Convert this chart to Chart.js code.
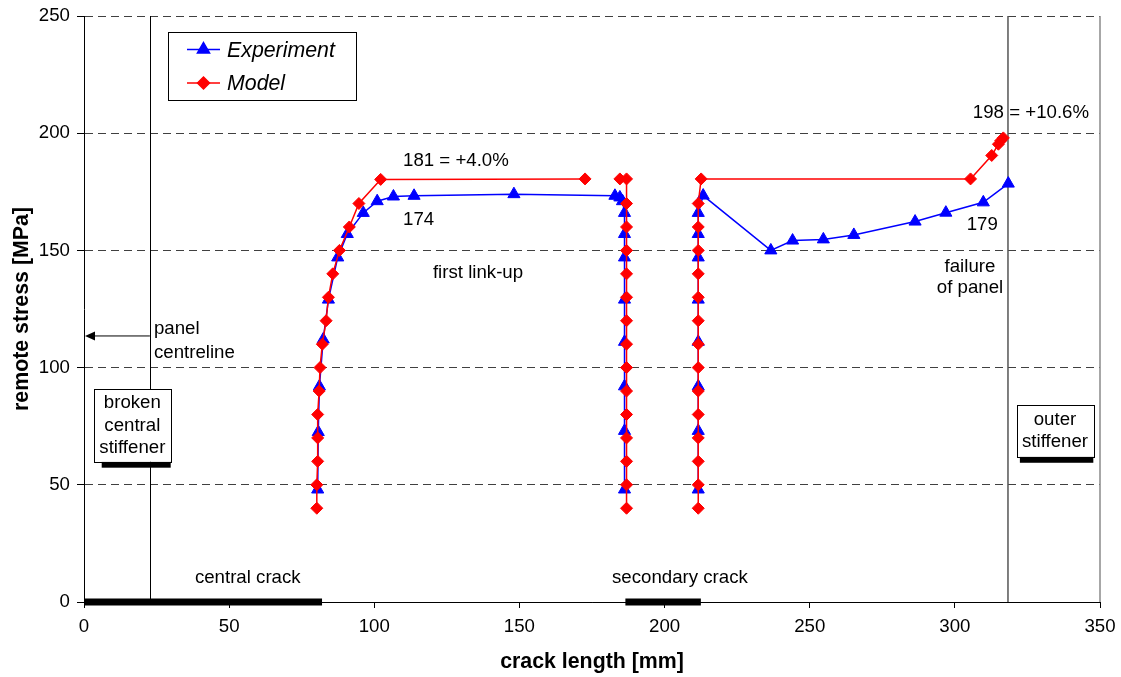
<!DOCTYPE html>
<html>
<head>
<meta charset="utf-8">
<script src="https://cdn.jsdelivr.net/npm/chart.js@4.4.1/dist/chart.umd.min.js"></script>
<style>
  html, body { margin: 0; padding: 0; background: #fff; }
  #wrap { width: 1121px; height: 677px; position: relative; }
</style>
</head>
<body>
<div id="wrap"><canvas id="chart"></canvas></div>
<script>
// crack tip position [mm] vs remote stress [MPa]

// Experiment: central crack tip, link-up plateau, then down the secondary crack tip
const expTip1X = [80.5, 80.7, 81.1, 82.4, 84.2, 87.4, 90.7, 96.2, 101.0, 106.6, 113.7, 148.1, 182.9, 184.6, 185.5];
const expTip1Y = [48, 72.5, 92, 112, 129, 147, 157, 166, 171, 173, 173.3, 174, 173.3, 172.6, 171];
const expTip2X = [186.2, 186.2, 186.2, 186.2, 186.2, 186.2, 186.2, 186.2];
const expTip2Y = [166, 157, 147, 129, 111, 92, 73, 48];
// Experiment: outer tip of secondary crack, growing to failure
const expTip3X = [211.6, 211.6, 211.6, 211.6, 211.6, 211.6, 211.6, 211.6, 213.3, 236.6, 244.1, 254.7, 265.2, 286.3, 296.9, 309.8, 318.4];
const expTip3Y = [48, 73, 92, 111, 129, 147, 157, 166, 173.4, 150, 154.2, 154.7, 156.6, 162.3, 166.1, 170.5, 178.5];

// Model
const modTip1X = [80.2, 80.2, 80.5, 80.5, 80.5, 81.0, 81.3, 82.1, 83.4, 84.2, 85.7, 88.0, 91.4, 94.7, 102.2, 172.6];
const modTip1Y = [40, 50, 60, 70, 80, 90, 100, 110, 120, 130, 140, 150, 160, 170, 180.3, 180.5];
const modTip2X = [184.6, 186.9, 186.9, 186.9, 186.9, 186.9, 186.9, 186.9, 186.9, 186.9, 186.9, 186.9, 186.9, 186.9, 186.9, 186.9];
const modTip2Y = [180.5, 180.5, 170, 160, 150, 140, 130, 120, 110, 100, 90, 80, 70, 60, 50, 40];
const modTip3X = [211.6, 211.6, 211.6, 211.6, 211.6, 211.6, 211.6, 211.6, 211.6, 211.6, 211.6, 211.6, 211.6, 211.6, 212.6, 305.4, 312.7, 315.0, 315.8, 316.7];
const modTip3Y = [40, 50, 60, 70, 80, 90, 100, 110, 120, 130, 140, 150, 160, 170, 180.5, 180.5, 190.5, 195.3, 196.8, 198];

const xTicks = [0, 50, 100, 150, 200, 250, 300, 350];
const yTicks = [0, 50, 100, 150, 200, 250];

// geometry of the specimen [mm]
const panelCentreline = 22.7;
const outerStiffener = 318.3;
const centralCrack = [0, 82];
const secondaryCrack = [186.5, 212.5];

const FONT = '"Liberation Sans", Arial, Helvetica, sans-serif';
Chart.defaults.font.family = FONT;
Chart.defaults.color = '#000';

// join segments with a gap so the line breaks between them
function segments(...pairs) {
  const out = [];
  pairs.forEach(([xs, ys], i) => {
    if (i > 0) out.push({ x: xs[0], y: null });
    xs.forEach((x, j) => out.push({ x: x, y: ys[j] }));
  });
  return out;
}

const annotations = {
  id: 'annotations',
  beforeDatasetsDraw(chart) {
    const { ctx, chartArea: a, scales: { x, y } } = chart;
    ctx.save();
    // panel centreline
    ctx.strokeStyle = '#000';
    ctx.lineWidth = 1;
    ctx.beginPath();
    ctx.moveTo(Math.round(x.getPixelForValue(panelCentreline)) + 0.5, a.top);
    ctx.lineTo(Math.round(x.getPixelForValue(panelCentreline)) + 0.5, a.bottom);
    ctx.stroke();
    // outer stiffener line
    ctx.strokeStyle = '#555';
    ctx.lineWidth = 1.5;
    ctx.beginPath();
    ctx.moveTo(x.getPixelForValue(outerStiffener), a.top);
    ctx.lineTo(x.getPixelForValue(outerStiffener), a.bottom);
    ctx.stroke();
    // right border of plot area
    ctx.strokeStyle = '#8a8a8a';
    ctx.lineWidth = 1.5;
    ctx.beginPath();
    ctx.moveTo(a.right, a.top);
    ctx.lineTo(a.right, a.bottom);
    ctx.stroke();
    // crack bars on the axis
    ctx.fillStyle = '#000';
    const y0 = y.getPixelForValue(0);
    [centralCrack, secondaryCrack].forEach(([c0, c1]) => {
      const p0 = x.getPixelForValue(c0), p1 = x.getPixelForValue(c1);
      ctx.fillRect(p0, y0 - 3.5, p1 - p0, 7);
    });
    // arrow to the panel centreline
    const ay = y.getPixelForValue(113.5);
    const ax0 = x.getPixelForValue(panelCentreline), ax1 = x.getPixelForValue(0);
    ctx.strokeStyle = '#000';
    ctx.lineWidth = 1;
    ctx.beginPath();
    ctx.moveTo(ax0, ay);
    ctx.lineTo(ax1 + 8, ay);
    ctx.stroke();
    ctx.beginPath();
    ctx.moveTo(ax1 + 1, ay);
    ctx.lineTo(ax1 + 11, ay - 4.5);
    ctx.lineTo(ax1 + 11, ay + 4.5);
    ctx.closePath();
    ctx.fill();
    ctx.restore();
  },
  afterDatasetsDraw(chart) {
    const { ctx, chartArea: a, scales: { x, y } } = chart;
    ctx.save();
    ctx.fillStyle = '#000';
    ctx.font = '18.67px ' + FONT;
    ctx.textBaseline = 'middle';

    const text = (s, vx, vy, align) => {
      ctx.textAlign = align || 'left';
      ctx.fillText(s, x.getPixelForValue(vx), y.getPixelForValue(vy));
    };
    text('181 = +4.0%', 109.9, 188.3);
    text('174', 109.9, 163.0);
    text('first link-up', 120.2, 140.4);
    text('198 = +10.6%', 306.2, 208.7);
    text('179', 314.8, 160.8, 'right');
    text('failure', 305.2, 142.9, 'center');
    text('of panel', 305.2, 134.0, 'center');
    text('central crack', 38.2, 10.2);
    text('secondary crack', 181.9, 10.2);
    text('panel', 24.1, 116.5);
    text('centreline', 24.1, 106.2);

    // text boxes with a black bar under them
    const box = (lines, x0, x1, yTop, yBot, shadowLeft, shadowBot) => {
      const l = x.getPixelForValue(x0), r = x.getPixelForValue(x1);
      const t = y.getPixelForValue(yTop), b = y.getPixelForValue(yBot);
      ctx.fillStyle = '#000';
      ctx.fillRect(x.getPixelForValue(shadowLeft), b, r - x.getPixelForValue(shadowLeft), y.getPixelForValue(shadowBot) - b);
      ctx.fillStyle = '#fff';
      ctx.fillRect(l, t, r - l, b - t);
      ctx.strokeStyle = '#000';
      ctx.lineWidth = 1;
      ctx.strokeRect(Math.round(l) + 0.5, Math.round(t) + 0.5, Math.round(r - l), Math.round(b - t));
      ctx.fillStyle = '#000';
      ctx.textAlign = 'center';
      const cx = (l + r) / 2;
      const step = 22.3;
      const startY = (t + b) / 2 - (lines.length - 1) * step / 2;
      lines.forEach((s, i) => ctx.fillText(s, cx, startY + i * step));
    };
    box(['broken', 'central', 'stiffener'], 3.44, 29.87, 90.87, 59.85, 6.1, 57.3);
    box(['outer', 'stiffener'], 321.3, 347.7, 84.0, 62.0, 322.4, 59.4);

    // legend
    const lx = a.left + 84, ly = a.top + 16, lw = 188, lh = 68;
    ctx.fillStyle = '#fff';
    ctx.fillRect(lx, ly, lw, lh);
    ctx.strokeStyle = '#000';
    ctx.lineWidth = 1;
    ctx.strokeRect(Math.round(lx) + 0.5, Math.round(ly) + 0.5, lw, lh);
    ctx.font = 'italic 21.33px ' + FONT;
    ctx.textAlign = 'left';
    chart.data.datasets.forEach((ds) => {
      const rowY = ly + (ds.label === 'Experiment' ? 17.6 : 51);
      ctx.strokeStyle = ds.borderColor;
      ctx.lineWidth = ds.borderWidth;
      ctx.beginPath();
      ctx.moveTo(lx + 19, rowY);
      ctx.lineTo(lx + 52, rowY);
      ctx.stroke();
      ctx.fillStyle = ds.backgroundColor;
      Chart.helpers.drawPoint(ctx, {
        pointStyle: ds.pointStyle, radius: ds.pointRadius, borderWidth: 1, rotation: 0
      }, lx + 35.5, rowY);
      ctx.fillStyle = '#000';
      ctx.fillText(ds.label, lx + 59, rowY + 1);
    });
    ctx.restore();
  }
};

new Chart(document.getElementById('chart'), {
  type: 'scatter',
  data: {
    datasets: [
      {
        label: 'Experiment',
        data: segments([expTip1X.concat(expTip2X), expTip1Y.concat(expTip2Y)], [expTip3X, expTip3Y]),
        showLine: true,
        borderColor: '#0000ff',
        backgroundColor: '#0000ff',
        borderWidth: 1.5,
        pointStyle: 'triangle',
        pointRadius: 7,
        pointBorderWidth: 1,
        order: 1
      },
      {
        label: 'Model',
        data: segments([modTip1X, modTip1Y], [modTip2X, modTip2Y], [modTip3X, modTip3Y]),
        showLine: true,
        borderColor: '#ff0000',
        backgroundColor: '#ff0000',
        borderWidth: 1.5,
        pointStyle: 'rectRot',
        pointRadius: 6,
        pointBorderWidth: 1,
        order: 0
      }
    ]
  },
  options: {
    responsive: true,
    maintainAspectRatio: false,
    animation: false,
    spanGaps: false,
    layout: { padding: { top: 16, right: 21, left: 0, bottom: 0 } },
    plugins: {
      legend: { display: false },
      tooltip: { enabled: false }
    },
    scales: {
      x: {
        type: 'linear',
        min: 0,
        max: 350,
        afterFit: (s) => { s.height = 75; s.paddingLeft = 0; s.paddingRight = 0; },
        afterBuildTicks: (s) => { s.ticks = xTicks.map(v => ({ value: v })); },
        ticks: { font: { size: 18.67 }, padding: 8, maxRotation: 0, color: '#000' },
        grid: { drawOnChartArea: false, tickLength: 6, tickColor: '#000', tickWidth: 1 },
        border: { color: '#000', width: 1 },
        title: {
          display: true,
          text: 'crack length [mm]',
          font: { size: 21.33, weight: 'bold', lineHeight: 1.2 },
          padding: { top: 0, bottom: 2 }
        }
      },
      y: {
        type: 'linear',
        min: 0,
        max: 250,
        afterFit: (s) => { s.width = 84; s.paddingTop = 0; s.paddingBottom = 0; },
        afterBuildTicks: (s) => { s.ticks = yTicks.map(v => ({ value: v })); },
        ticks: { font: { size: 18.67 }, padding: 7, color: '#000' },
        grid: { color: '#404040', lineWidth: 1, tickLength: 7, tickColor: '#000', tickWidth: 1 },
        border: { color: '#000', width: 1, dash: [8, 5] },
        title: {
          display: true,
          text: 'remote stress [MPa]',
          font: { size: 21.33, weight: 'bold', lineHeight: 1.2 },
          padding: { top: 9, bottom: 0 }
        }
      }
    }
  },
  plugins: [annotations]
});
</script>
</body>
</html>
